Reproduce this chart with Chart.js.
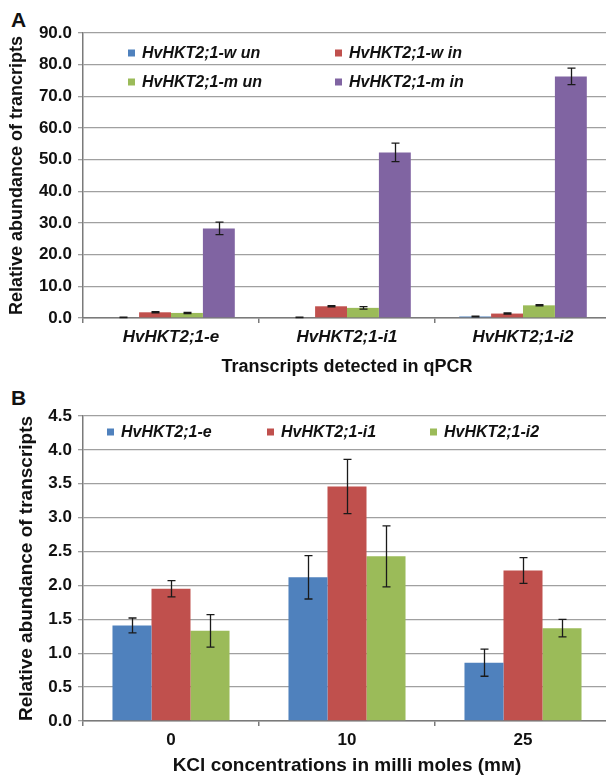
<!DOCTYPE html>
<html>
<head>
<meta charset="utf-8">
<script src="https://cdn.jsdelivr.net/npm/chart.js@4.4.1/dist/chart.umd.min.js"></script>
<style>
  html, body { margin: 0; padding: 0; background: #fff; overflow: hidden; width: 606px; height: 776px; }
  .panel { position: absolute; left: 0; }
  .tag { position: absolute; font: bold 21px "Liberation Sans", Arial, sans-serif; color: #111; }
</style>
</head>
<body>
<div class="tag" style="left:11px; top:8px;">A</div>
<div class="panel" style="top:0px;"><canvas id="chartA" width="612" height="380"></canvas></div>
<div class="tag" style="left:11px; top:386px;">B</div>
<div class="panel" style="top:385px;"><canvas id="chartB" width="612" height="391"></canvas></div>
<script>
// panel A
const transcriptsA = ['HvHKT2;1-e', 'HvHKT2;1-i1', 'HvHKT2;1-i2'];
const wUn = [0.2, 0.2, 0.5];
const wUnErr = [0.1, 0.1, 0.1];
const wIn = [1.8, 3.7, 1.4];
const wInErr = [0.2, 0.2, 0.2];
const mUn = [1.6, 3.2, 4.0];
const mUnErr = [0.2, 0.4, 0.2];
const mIn = [28.3, 52.3, 76.3];
const mInErr = [2.0, 2.9, 2.6];

// panel B
const kclConc = ['0', '10', '25'];
const e = [1.41, 2.12, 0.86];
const eErr = [0.11, 0.32, 0.20];
const i1 = [1.95, 3.46, 2.22];
const i1Err = [0.12, 0.40, 0.19];
const i2 = [1.33, 2.43, 1.37];
const i2Err = [0.24, 0.45, 0.13];

const BLUE = '#4F81BD', RED = '#C0504D', GREEN = '#9BBB59', PURPLE = '#8064A2';
const FONT = '"Liberation Sans", Arial, sans-serif';

// error bars drawn from the bar elements and the y scale
const errorBars = {
  id: 'errorBars',
  afterDatasetsDraw(chart) {
    const ctx = chart.ctx;
    const y = chart.scales.y;
    ctx.save();
    ctx.strokeStyle = '#1a1a1a';
    ctx.lineWidth = 1.3;
    chart.data.datasets.forEach((ds, i) => {
      const meta = chart.getDatasetMeta(i);
      meta.data.forEach((bar, j) => {
        const v = ds.data[j], err = ds.errors[j];
        const top = y.getPixelForValue(v + err);
        const bot = y.getPixelForValue(Math.max(0, v - err));
        const x = Math.round(bar.x) + 0.5;
        ctx.beginPath();
        ctx.moveTo(x, top); ctx.lineTo(x, bot);
        ctx.moveTo(x - 4, top); ctx.lineTo(x + 4, top);
        ctx.moveTo(x - 4, bot); ctx.lineTo(x + 4, bot);
        ctx.stroke();
      });
    });
    ctx.restore();
  }
};

// legend placed inside the plot like the original
const insideLegend = {
  id: 'insideLegend',
  afterDraw(chart, args, opts) {
    const ctx = chart.ctx;
    ctx.save();
    ctx.font = 'italic bold 16px ' + FONT;
    ctx.textBaseline = 'middle';
    chart.data.datasets.forEach((ds, i) => {
      const p = opts.pos[i];
      ctx.fillStyle = ds.backgroundColor;
      ctx.fillRect(p[0], p[1] - 3.5, 7, 7);
      ctx.fillStyle = '#111';
      ctx.fillText(ds.label, p[0] + 14, p[1] + 1);
    });
    ctx.restore();
  }
};

function makeOptions(cfg) {
  return {
    responsive: false,
    animation: false,
    layout: { padding: { top: cfg.top, right: 1, left: 0, bottom: 0 } },
    plugins: {
      legend: { display: false },
      tooltip: { enabled: false },
      insideLegend: { pos: cfg.legendPos }
    },
    scales: {
      x: {
        afterFit: s => { s.height = cfg.xHeight; },
        border: { color: '#7a7a7a', width: 1.5 },
        grid: { drawOnChartArea: false, drawTicks: true, tickLength: 5, color: '#7a7a7a', lineWidth: 1.5 },
        ticks: { color: '#111', padding: cfg.xTickPad, font: { family: FONT, size: 17, weight: 'bold', style: cfg.xStyle } },
        title: { display: true, text: cfg.xTitle, color: '#111', padding: { top: 0, bottom: cfg.xTitlePad }, font: { family: FONT, size: cfg.titleSize, weight: 'bold' } }
      },
      y: {
        min: 0, max: cfg.max,
        afterFit: s => { s.width = 83; },
        border: { color: '#7a7a7a', width: 1.5 },
        grid: { color: '#a0a0a0', lineWidth: 1.3, tickLength: 5 },
        ticks: { stepSize: cfg.step, color: '#111', padding: 6, callback: v => v.toFixed(1), font: { family: FONT, size: 17, weight: 'bold' } },
        title: { display: true, text: cfg.yTitle, color: '#111', padding: { top: cfg.yTitlePad, bottom: 0 }, font: { family: FONT, size: cfg.titleSize, weight: 'bold' } }
      }
    }
  };
}

new Chart(document.getElementById('chartA').getContext('2d'), {
  type: 'bar',
  data: {
    labels: transcriptsA,
    datasets: [
      { label: 'HvHKT2;1-w un', data: wUn, errors: wUnErr, backgroundColor: BLUE },
      { label: 'HvHKT2;1-w in', data: wIn, errors: wInErr, backgroundColor: RED },
      { label: 'HvHKT2;1-m un', data: mUn, errors: mUnErr, backgroundColor: GREEN },
      { label: 'HvHKT2;1-m in', data: mIn, errors: mInErr, backgroundColor: PURPLE }
    ].map(d => Object.assign(d, { categoryPercentage: 0.725, barPercentage: 1 }))
  },
  options: makeOptions({
    top: 33, max: 90, step: 10, xHeight: 62, xTickPad: 4, xStyle: 'italic', titleSize: 18,
    xTitle: 'Transcripts detected in qPCR', xTitlePad: 2,
    yTitle: 'Relative abundance of trancripts', yTitlePad: 6,
    legendPos: [[128, 53], [335, 53], [128, 82], [335, 82]]
  }),
  plugins: [errorBars, insideLegend]
});

new Chart(document.getElementById('chartB').getContext('2d'), {
  type: 'bar',
  data: {
    labels: kclConc,
    datasets: [
      { label: 'HvHKT2;1-e', data: e, errors: eErr, backgroundColor: BLUE },
      { label: 'HvHKT2;1-i1', data: i1, errors: i1Err, backgroundColor: RED },
      { label: 'HvHKT2;1-i2', data: i2, errors: i2Err, backgroundColor: GREEN }
    ].map(d => Object.assign(d, { categoryPercentage: 0.665, barPercentage: 1 }))
  },
  options: makeOptions({
    top: 31, max: 4.5, step: 0.5, xHeight: 55, xTickPad: 4, xStyle: 'normal', titleSize: 19,
    xTitle: 'KCl concentrations in milli moles (mᴍ)', xTitlePad: -1,
    yTitle: 'Relative abundance of transcripts', yTitlePad: 15,
    legendPos: [[107, 47], [267, 47], [430, 47]]
  }),
  plugins: [errorBars, insideLegend]
});
</script>
</body>
</html>
